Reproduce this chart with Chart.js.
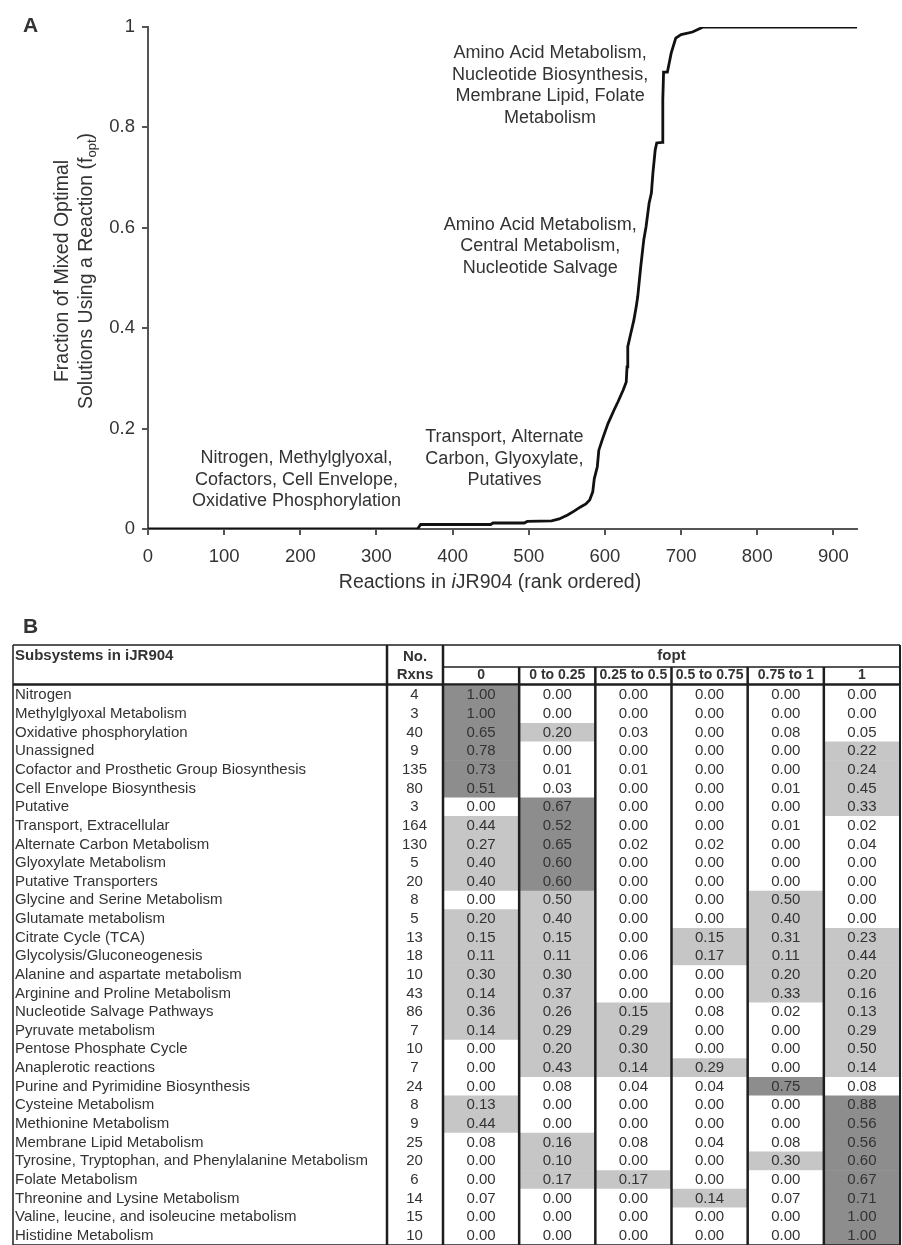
<!DOCTYPE html>
<html>
<head>
<meta charset="utf-8">
<script src="https://cdn.jsdelivr.net/npm/chart.js@4.4.1/dist/chart.umd.min.js"></script>
<style>
  html, body { margin: 0; padding: 0; background: #fff; overflow: hidden; }
  #wrap { position: relative; width: 902px; height: 1245px; }
  canvas { position: absolute; left: 0; }
  #curveChart { top: 0; }
  #tableChart { top: 615px; }
</style>
</head>
<body>
<div id="wrap">
  <canvas id="curveChart" width="902" height="600"></canvas>
  <canvas id="tableChart" width="902" height="640"></canvas>
</div>
<script>
const FONT = "'Liberation Sans', Arial, sans-serif";
const INK = '#333';
Chart.defaults.font.family = FONT;
Chart.defaults.color = INK;

// panel A: rank ordered fopt curve
const rankPts = [0, 354, 358, 450, 453, 494, 498, 530, 540, 551,
  560, 568, 575, 580, 584, 586, 590, 592, 597, 604,
  612, 617, 624, 628, 629, 630, 634, 638, 641, 643,
  647, 651, 654, 658, 661, 663, 666, 668, 675, 676,
  677, 682, 687, 693, 700, 715, 729, 931];
const foptPts = [0, 0, 0.009, 0.009, 0.012, 0.012, 0.015, 0.016, 0.02, 0.028,
  0.036, 0.044, 0.05, 0.058, 0.074, 0.10, 0.124, 0.157, 0.18, 0.21,
  0.237, 0.253, 0.277, 0.293, 0.323, 0.363, 0.39, 0.416, 0.442, 0.462,
  0.522, 0.576, 0.602, 0.649, 0.669, 0.709, 0.755, 0.769, 0.77, 0.855,
  0.91, 0.91, 0.948, 0.978, 0.985, 0.99, 1, 1];

// panel B: subsystem table
const subsystems = [
  'Nitrogen', 'Methylglyoxal Metabolism', 'Oxidative phosphorylation', 'Unassigned',
  'Cofactor and Prosthetic Group Biosynthesis', 'Cell Envelope Biosynthesis', 'Putative',
  'Transport, Extracellular', 'Alternate Carbon Metabolism', 'Glyoxylate Metabolism',
  'Putative Transporters', 'Glycine and Serine Metabolism', 'Glutamate metabolism',
  'Citrate Cycle (TCA)', 'Glycolysis/Gluconeogenesis', 'Alanine and aspartate metabolism',
  'Arginine and Proline Metabolism', 'Nucleotide Salvage Pathways', 'Pyruvate metabolism',
  'Pentose Phosphate Cycle', 'Anaplerotic reactions', 'Purine and Pyrimidine Biosynthesis',
  'Cysteine Metabolism', 'Methionine Metabolism', 'Membrane Lipid Metabolism',
  'Tyrosine, Tryptophan, and Phenylalanine Metabolism', 'Folate Metabolism',
  'Threonine and Lysine Metabolism', 'Valine, leucine, and isoleucine metabolism',
  'Histidine Metabolism'
];
const rxnCounts = [4, 3, 40, 9, 135, 80, 3, 164, 130, 5, 20, 8, 5, 13, 18,
  10, 43, 86, 7, 10, 7, 24, 8, 9, 25, 20, 6, 14, 15, 10];
const binLabels = ['0', '0 to 0.25', '0.25 to 0.5', '0.5 to 0.75', '0.75 to 1', '1'];

const fZero    = [1.00, 1.00, 0.65, 0.78, 0.73, 0.51, 0.00, 0.44, 0.27, 0.40, 0.40, 0.00, 0.20, 0.15, 0.11,
                  0.30, 0.14, 0.36, 0.14, 0.00, 0.00, 0.00, 0.13, 0.44, 0.08, 0.00, 0.00, 0.07, 0.00, 0.00];
const fLow     = [0.00, 0.00, 0.20, 0.00, 0.01, 0.03, 0.67, 0.52, 0.65, 0.60, 0.60, 0.50, 0.40, 0.15, 0.11,
                  0.30, 0.37, 0.26, 0.29, 0.20, 0.43, 0.08, 0.00, 0.00, 0.16, 0.10, 0.17, 0.00, 0.00, 0.00];
const fMidLow  = [0.00, 0.00, 0.03, 0.00, 0.01, 0.00, 0.00, 0.00, 0.02, 0.00, 0.00, 0.00, 0.00, 0.00, 0.06,
                  0.00, 0.00, 0.15, 0.29, 0.30, 0.14, 0.04, 0.00, 0.00, 0.08, 0.00, 0.17, 0.00, 0.00, 0.00];
const fMidHigh = [0.00, 0.00, 0.00, 0.00, 0.00, 0.00, 0.00, 0.00, 0.02, 0.00, 0.00, 0.00, 0.00, 0.15, 0.17,
                  0.00, 0.00, 0.08, 0.00, 0.00, 0.29, 0.04, 0.00, 0.00, 0.04, 0.00, 0.00, 0.14, 0.00, 0.00];
const fHigh    = [0.00, 0.00, 0.08, 0.00, 0.00, 0.01, 0.00, 0.01, 0.00, 0.00, 0.00, 0.50, 0.40, 0.31, 0.11,
                  0.20, 0.33, 0.02, 0.00, 0.00, 0.00, 0.75, 0.00, 0.00, 0.08, 0.30, 0.00, 0.07, 0.00, 0.00];
const fOne     = [0.00, 0.00, 0.05, 0.22, 0.24, 0.45, 0.33, 0.02, 0.04, 0.00, 0.00, 0.00, 0.00, 0.23, 0.44,
                  0.20, 0.16, 0.13, 0.29, 0.50, 0.14, 0.08, 0.88, 0.56, 0.56, 0.60, 0.67, 0.71, 1.00, 1.00];
const binValues = [fZero, fLow, fMidLow, fMidHigh, fHigh, fOne];

// text notes on panel A, placed in data units
const notes = [
  { rank: 528, fopt: 0.948, lines: ['Amino Acid Metabolism,', 'Nucleotide Biosynthesis,', 'Membrane Lipid, Folate', 'Metabolism'] },
  { rank: 515, fopt: 0.606, lines: ['Amino Acid Metabolism,', 'Central Metabolism,', 'Nucleotide Salvage'] },
  { rank: 468, fopt: 0.183, lines: ['Transport, Alternate', 'Carbon, Glyoxylate,', 'Putatives'] },
  { rank: 195, fopt: 0.141, lines: ['Nitrogen, Methylglyoxal,', 'Cofactors, Cell Envelope,', 'Oxidative Phosphorylation'] }
];

function drawParts(ctx, parts, cx, cy) {
  let total = 0;
  parts.forEach(p => { ctx.font = p.font; total += ctx.measureText(p.text).width; });
  let x = cx - total / 2;
  parts.forEach(p => {
    ctx.font = p.font;
    ctx.fillText(p.text, x, cy + (p.dy || 0));
    x += ctx.measureText(p.text).width;
  });
}

const curveLabels = {
  id: 'curveLabels',
  afterDatasetsDraw(chart) {
    const { ctx, scales: { x, y } } = chart;
    ctx.save();
    ctx.fillStyle = INK;
    ctx.textAlign = 'center';
    ctx.textBaseline = 'middle';
    ctx.font = `18px ${FONT}`;
    notes.forEach(n => {
      const px = x.getPixelForValue(n.rank);
      const py = y.getPixelForValue(n.fopt);
      n.lines.forEach((t, i) => ctx.fillText(t, px, py + i * 21.5));
    });

    ctx.textAlign = 'left';
    const big = `19.5px ${FONT}`;
    drawParts(ctx, [
      { text: 'Reactions in ', font: big },
      { text: 'i', font: `italic 19.5px ${FONT}` },
      { text: 'JR904 (rank ordered)', font: big }
    ], 490, 583);

    ctx.save();
    ctx.translate(63, 271);
    ctx.rotate(-Math.PI / 2);
    drawParts(ctx, [{ text: 'Fraction of Mixed Optimal', font: big }], 0, 0);
    ctx.restore();
    ctx.save();
    ctx.translate(87, 271);
    ctx.rotate(-Math.PI / 2);
    drawParts(ctx, [
      { text: 'Solutions Using a Reaction (f', font: big },
      { text: 'opt', font: `13px ${FONT}`, dy: 5 },
      { text: ')', font: big }
    ], 0, 0);
    ctx.restore();

    ctx.textBaseline = 'alphabetic';
    ctx.font = `bold 21px ${FONT}`;
    ctx.fillText('A', 23, 32);
    ctx.restore();
  }
};

const axisLine = { drawOnChartArea: false, tickLength: 6, color: '#555', lineWidth: 2 };

new Chart(document.getElementById('curveChart'), {
  type: 'line',
  data: {
    datasets: [{
      data: rankPts.map((r, i) => ({ x: r, y: foptPts[i] })),
      borderColor: '#111',
      borderWidth: 2.8,
      pointRadius: 0,
      tension: 0,
      fill: false
    }]
  },
  options: {
    responsive: false,
    animation: false,
    layout: { padding: { left: 0, right: 45, top: 27, bottom: 0 } },
    plugins: { legend: { display: false }, tooltip: { enabled: false } },
    scales: {
      x: {
        type: 'linear', min: 0, max: 931,
        ticks: { stepSize: 100, includeBounds: false, padding: 11, maxRotation: 0, font: { size: 18.5 }, color: INK },
        grid: axisLine,
        border: { color: '#555', width: 2 },
        afterFit: s => { s.height = 71; }
      },
      y: {
        type: 'linear', min: 0, max: 1,
        ticks: {
          stepSize: 0.2, padding: 7, font: { size: 18.5 }, color: INK,
          callback: v => String(Number(v.toFixed(1)))
        },
        grid: axisLine,
        border: { color: '#555', width: 2 },
        afterFit: s => { s.width = 148; }
      }
    }
  },
  plugins: [curveLabels]
});

const shade = v => v > 0.5 ? '#8d8d8d' : v >= 0.1 ? '#c6c6c6' : '#ffffff';

const tableCells = {
  id: 'tableCells',
  afterDatasetsDraw(chart) {
    const { ctx, chartArea: area, scales } = chart;
    ctx.save();
    ctx.fillStyle = INK;
    ctx.font = `15px ${FONT}`;
    ctx.textAlign = 'center';
    ctx.textBaseline = 'middle';
    binValues.forEach((vals, j) => {
      chart.getDatasetMeta(j).data.forEach((bar, i) => {
        ctx.fillText(vals[i].toFixed(2), (bar.x + bar.base) / 2, bar.y);
      });
    });

    const top = scales.bins.top;
    const subTop = top + 22;
    const left = scales.y.left - 2;
    const right = area.right;
    const bottom = area.bottom;
    ctx.strokeStyle = '#1e1e1e';
    const line = (x1, y1, x2, y2, w) => {
      ctx.lineWidth = w;
      ctx.beginPath();
      ctx.moveTo(x1, y1);
      ctx.lineTo(x2, y2);
      ctx.stroke();
    };
    line(left, top, right, top, 1.5);
    line(area.left, subTop, right, subTop, 1.5);
    line(left, area.top - 1.5, right, area.top - 1.5, 2.5);
    line(left, bottom, right, bottom, 1.5);
    line(left, top, left, bottom, 1.5);
    line(scales.rxns.left, top, scales.rxns.left, bottom, 2.5);
    for (let j = 0; j <= binLabels.length; j++) {
      const px = scales.x.getPixelForValue(j);
      const edge = j === 0 || j === binLabels.length;
      line(px, edge ? top : subTop, px, bottom, j === binLabels.length ? 2 : 2.5);
    }

    ctx.font = `bold 15px ${FONT}`;
    ctx.textAlign = 'left';
    ctx.fillText('Subsystems in iJR904', scales.y.left, top + 11);
    ctx.textAlign = 'center';
    const rc = (scales.rxns.left + scales.rxns.right) / 2;
    ctx.fillText('No.', rc, top + 12);
    ctx.fillText('Rxns', rc, top + 30);

    ctx.textAlign = 'left';
    ctx.textBaseline = 'alphabetic';
    ctx.font = `bold 21px ${FONT}`;
    ctx.fillText('B', 23, 18);
    ctx.restore();
  }
};

new Chart(document.getElementById('tableChart'), {
  type: 'bar',
  data: {
    labels: subsystems,
    datasets: binValues.map((vals, j) => ({
      label: binLabels[j],
      data: vals.map(() => 1),
      backgroundColor: vals.map(shade),
      borderWidth: 0,
      barPercentage: 1,
      categoryPercentage: 1,
      xAxisID: 'x',
      yAxisID: 'y'
    }))
  },
  options: {
    indexAxis: 'y',
    responsive: false,
    animation: false,
    layout: { padding: { left: 15, right: 2, top: 30, bottom: 10 } },
    plugins: { legend: { display: false }, tooltip: { enabled: false } },
    scales: {
      x: { type: 'linear', display: false, stacked: true, min: 0, max: 6 },
      bins: {
        type: 'category', axis: 'x', position: 'top', labels: binLabels, offset: true,
        ticks: { font: { size: 14, weight: 'bold' }, color: INK, padding: 2, maxRotation: 0, autoSkip: false },
        grid: { display: false, drawTicks: false },
        border: { display: false },
        title: { display: true, text: 'fopt', font: { size: 15, weight: 'bold' }, color: INK, padding: { top: 2, bottom: 0 } },
        afterFit: s => { s.height = 41; }
      },
      y: {
        type: 'category', position: 'left', stacked: true, offset: true, weight: 2,
        ticks: { crossAlign: 'far', padding: 0, autoSkip: false, font: { size: 15 }, color: INK },
        grid: { display: false, drawTicks: false },
        border: { display: false },
        afterFit: s => { s.width = 372; }
      },
      rxns: {
        type: 'category', axis: 'y', position: 'left', offset: true, weight: 1,
        labels: rxnCounts.map(String),
        ticks: { crossAlign: 'center', padding: 0, autoSkip: false, font: { size: 15 }, color: INK },
        grid: { display: false, drawTicks: true, tickLength: 16 },
        border: { display: false },
        afterFit: s => { s.width = 56; }
      }
    }
  },
  plugins: [tableCells]
});
</script>
</body>
</html>
